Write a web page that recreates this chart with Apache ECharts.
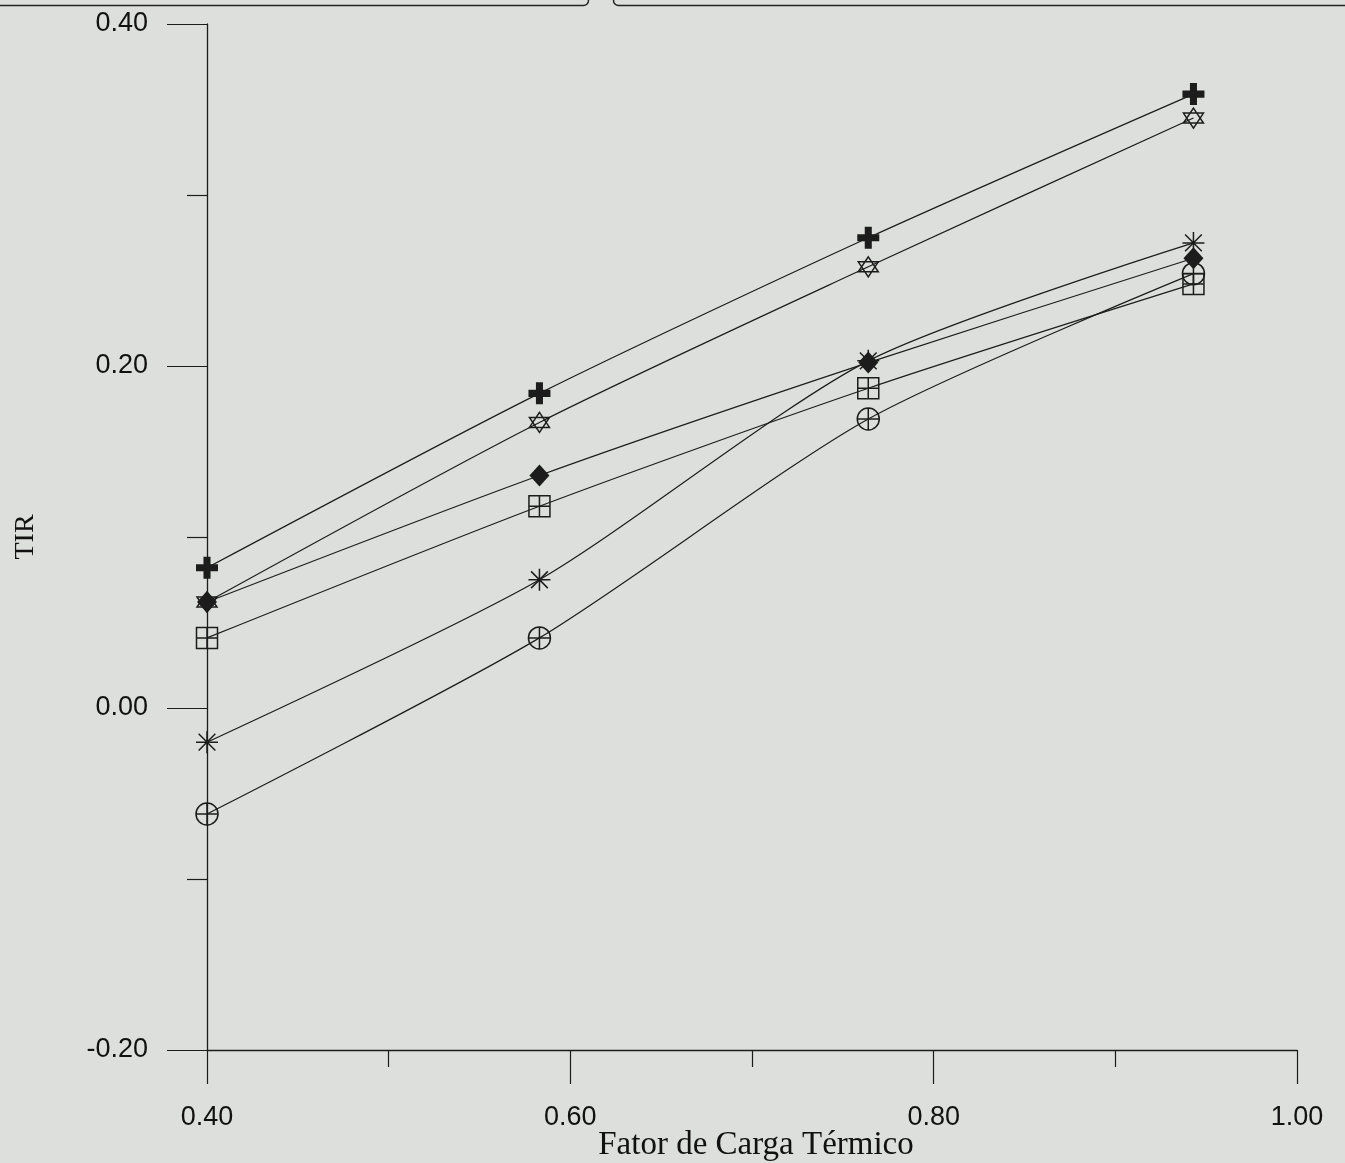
<!DOCTYPE html>
<html>
<head>
<meta charset="utf-8">
<title>TIR x Fator de Carga Térmico</title>
<script src="https://cdn.jsdelivr.net/npm/echarts@6/dist/echarts.min.js"></script>
<style>
  html, body { margin: 0; padding: 0; background: #dcdfdb; }
  #chart { width: 1345px; height: 1163px; }
</style>
</head>
<body>
<div id="chart"></div>
<script>
// Thermal load factor (x) and internal rate of return (y) for six cases
const xValues = [0.400, 0.583, 0.764, 0.943];
const plusValues = [0.082, 0.184, 0.275, 0.359];
const starValues = [0.062, 0.167, 0.258, 0.345];
const diamondValues = [0.062, 0.136, 0.202, 0.263];
const squareValues = [0.041, 0.118, 0.187, 0.248];
const asteriskValues = [-0.020, 0.075, 0.203, 0.272];
const circleValues = [-0.062, 0.041, 0.169, 0.254];

const xTickLabels = ['0.40', '0.60', '0.80', '1.00'];
const yTickLabels = ['-0.20', '0.00', '0.20', '0.40'];

const INK = '#1c1c1c';

// Marker outlines (drawn as stroked paths)
const SYM_PLUS = 'path://M34,0 H66 V34 H100 V66 H66 V100 H34 V66 H0 V34 H34 Z';
const SYM_STAR = 'path://M50,0 L93.3,75 L6.7,75 Z M50,100 L6.7,25 L93.3,25 Z';
const SYM_SQUARE = 'path://M0,0 H100 V100 H0 Z M50,0 V100 M0,50 H100';
const SYM_ASTER = 'path://M50,0 V100 M0,50 H100 M12,12 L88,88 M88,12 L12,88';
const SYM_CIRCLE = 'path://M0,50 A50,50 0 1,0 100,50 A50,50 0 1,0 0,50 Z M50,0 V100 M0,50 H100';

function pairs(ys) {
  return xValues.map((x, i) => [x, ys[i]]);
}

function lineSeries(name, ys, symbol, size, filled) {
  return {
    name: name,
    type: 'line',
    data: pairs(ys),
    smooth: 0.25,
    symbol: symbol,
    symbolSize: size,
    showAllSymbol: true,
    lineStyle: { color: INK, width: 1.2 },
    itemStyle: filled
      ? { color: INK, borderWidth: 0 }
      : { color: 'rgba(0,0,0,0)', borderColor: INK, borderWidth: 1.5 },
    emphasis: { disabled: true },
    z: 3
  };
}

const chart = echarts.init(document.getElementById('chart'), null, { renderer: 'canvas' });

chart.setOption({
  backgroundColor: '#dcdfdb',
  animation: false,
  grid: { left: 207, right: 48, top: 24, bottom: 113, containLabel: false, outerBoundsMode: 'none' },
  xAxis: {
    type: 'value',
    min: 0.4,
    max: 1.0,
    interval: 0.2,
    name: 'Fator de Carga Térmico',
    nameLocation: 'middle',
    nameGap: 79,
    nameMoveOverlap: false,
    nameTextStyle: { fontFamily: 'Liberation Serif', fontSize: 33, color: '#111', padding: [0, 0, 0, 8] },
    axisLine: { onZero: false, lineStyle: { color: INK, width: 1.3 } },
    axisTick: { show: true, inside: false, length: 34, lineStyle: { color: INK, width: 1.2 } },
    minorTick: { show: true, splitNumber: 2, length: 17, lineStyle: { color: INK, width: 1.2 } },
    splitLine: { show: false },
    minorSplitLine: { show: false },
    axisLabel: {
      margin: 54,
      fontFamily: 'Liberation Sans',
      fontSize: 27,
      color: '#111',
      formatter: v => xTickLabels.find(t => Math.abs(parseFloat(t) - v) < 1e-6) || ''
    }
  },
  yAxis: {
    type: 'value',
    min: -0.2,
    max: 0.4,
    interval: 0.2,
    name: 'TIR',
    nameLocation: 'middle',
    nameRotate: 90,
    nameGap: 167,
    nameMoveOverlap: false,
    nameTextStyle: { fontFamily: 'Liberation Serif', fontSize: 28, color: '#111' },
    axisLine: { show: true, onZero: false, lineStyle: { color: INK, width: 1.3 } },
    axisTick: { show: true, inside: false, length: 40, lineStyle: { color: INK, width: 1.2 } },
    minorTick: { show: true, splitNumber: 2, length: 20, lineStyle: { color: INK, width: 1.2 } },
    splitLine: { show: false },
    minorSplitLine: { show: false },
    axisLabel: {
      margin: 59,
      fontFamily: 'Liberation Sans',
      fontSize: 27,
      color: '#111',
      formatter: v => yTickLabels.find(t => Math.abs(parseFloat(t) - v) < 1e-6) || ''
    }
  },
  graphic: [
    { type: 'rect', left: -10, top: -20, shape: { width: 596, height: 23, r: 5 },
      style: { fill: 'none', stroke: '#222', lineWidth: 1.5 } },
    { type: 'rect', left: 611, top: -20, shape: { width: 760, height: 23, r: 5 },
      style: { fill: 'none', stroke: '#222', lineWidth: 1.5 } }
  ],
  series: [
    lineSeries('Caso A', circleValues, SYM_CIRCLE, 22, false),
    lineSeries('Caso B', asteriskValues, SYM_ASTER, 22, false),
    lineSeries('Caso C', squareValues, SYM_SQUARE, 21, false),
    lineSeries('Caso D', starValues, SYM_STAR, 20, false),
    lineSeries('Caso E', diamondValues, 'diamond', [20, 22], true),
    lineSeries('Caso F', plusValues, SYM_PLUS, 22, true)
  ]
});
</script>
</body>
</html>
